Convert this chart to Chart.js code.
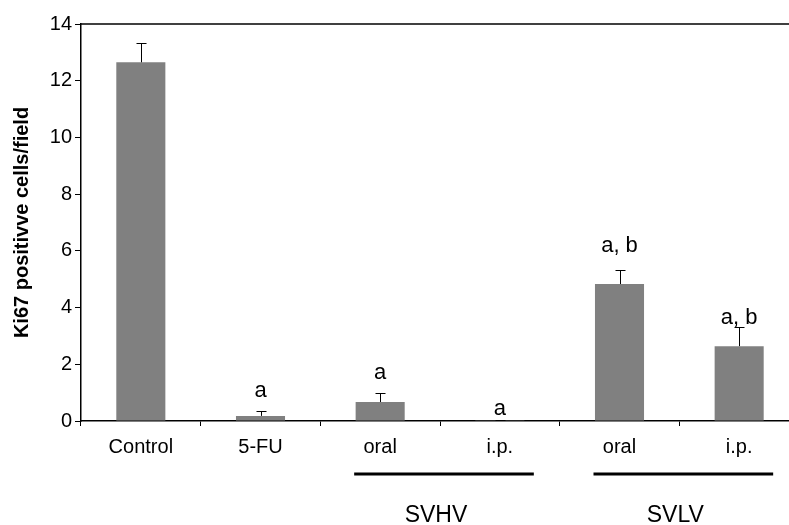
<!DOCTYPE html>
<html lang="en">
<head>
    <meta charset="UTF-8">
    <title>Ki67 positive cells</title>
    <script src="https://cdn.jsdelivr.net/npm/chart.js"></script>
    <style>
        html, body { margin: 0; padding: 0; background: #fff; overflow: hidden; }
        canvas { display: block; }
    </style>
</head>
<body>
    <canvas id="kiChart" width="805" height="525"></canvas>

    <script>
        // Data
        const categories = ['Control', '5-FU', 'oral', 'i.p.', 'oral', 'i.p.'];
        const meanValues = [12.65, 0.18, 0.67, 0.03, 4.83, 2.64];
        const errorTops = [13.32, 0.35, 1.0, 0.04, 5.32, 3.31];
        const markTexts = ['', 'a', 'a', 'a', 'a, b', 'a, b'];
        const markLevels = [0, 1.06, 1.69, 0.42, 6.17, 3.63];
        const groupNames = ['SVHV', 'SVLV'];
        const groupMembers = [[2, 3], [4, 5]];
        const yTicks = [0, 2, 4, 6, 8, 10, 12, 14];

        const FONT = '"Liberation Sans", Arial, sans-serif';

        // Error bars (upper only), significance marks, group underlines
        const extrasPlugin = {
            id: 'extras',
            afterDatasetsDraw(chart) {
                const ctx = chart.ctx;
                const x = chart.scales.x;
                const y = chart.scales.y;
                const area = chart.chartArea;

                ctx.save();
                // top frame line
                ctx.strokeStyle = '#000';
                ctx.lineWidth = 1.5;
                ctx.beginPath();
                ctx.moveTo(area.left, area.top);
                ctx.lineTo(area.right, area.top);
                ctx.stroke();

                // error bars
                ctx.lineWidth = 1;
                errorTops.forEach((v, i) => {
                    const cx = Math.round(x.getPixelForValue(i)) + 0.5;
                    const y0 = y.getPixelForValue(meanValues[i]);
                    const y1 = Math.round(y.getPixelForValue(v)) + 0.5;
                    ctx.beginPath();
                    ctx.moveTo(cx, y0);
                    ctx.lineTo(cx, y1);
                    ctx.moveTo(cx - 5, y1);
                    ctx.lineTo(cx + 5, y1);
                    ctx.stroke();
                });

                // significance letters
                ctx.fillStyle = '#000';
                ctx.font = '22px ' + FONT;
                ctx.textAlign = 'center';
                ctx.textBaseline = 'middle';
                markTexts.forEach((t, i) => {
                    if (!t) return;
                    ctx.fillText(t, x.getPixelForValue(i), y.getPixelForValue(markLevels[i]));
                });

                // group lines and names
                const lineY = area.bottom + 53;
                groupMembers.forEach((m, g) => {
                    const a = x.getPixelForValue(m[0]);
                    const b = x.getPixelForValue(m[1]);
                    ctx.lineWidth = 3;
                    ctx.beginPath();
                    ctx.moveTo(a - 26, lineY);
                    ctx.lineTo(b + 34, lineY);
                    ctx.stroke();
                    ctx.textBaseline = 'alphabetic';
                    ctx.font = '23px ' + FONT;
                    ctx.fillText(groupNames[g], (a + b) / 2 - 4, area.bottom + 101);
                });
                ctx.restore();
            }
        };

        new Chart(document.getElementById('kiChart'), {
            type: 'bar',
            data: {
                labels: categories,
                datasets: [{
                    data: meanValues,
                    backgroundColor: '#808080',
                    borderWidth: 0,
                    barPercentage: 0.41,
                    categoryPercentage: 1.0
                }]
            },
            options: {
                responsive: false,
                animation: false,
                layout: { padding: { top: 24, right: 6, left: 0, bottom: 0 } },
                plugins: {
                    legend: { display: false },
                    tooltip: { enabled: false }
                },
                scales: {
                    x: {
                        afterFit: s => { s.height = 104; },
                        grid: {
                            offset: true,
                            drawOnChartArea: false,
                            drawTicks: true,
                            tickLength: 5,
                            color: '#000'
                        },
                        border: { color: '#000', width: 1.5 },
                        ticks: {
                            color: '#000',
                            padding: 9,
                            maxRotation: 0,
                            font: { family: FONT, size: 20 }
                        }
                    },
                    y: {
                        min: 0,
                        max: 14,
                        afterFit: s => { s.width = 81; },
                        afterBuildTicks: s => { s.ticks = yTicks.map(v => ({ value: v })); },
                        grid: {
                            drawOnChartArea: false,
                            drawTicks: true,
                            tickLength: 6,
                            color: '#000'
                        },
                        border: { color: '#000', width: 1.5 },
                        ticks: {
                            color: '#000',
                            padding: 3,
                            font: { family: FONT, size: 20 }
                        },
                        title: {
                            display: true,
                            text: 'Ki67 positivve cells/field',
                            color: '#000',
                            padding: { top: 10, bottom: 0 },
                            font: { family: FONT, size: 20, weight: 'bold' }
                        }
                    }
                }
            },
            plugins: [extrasPlugin]
        });
    </script>
</body>
</html>
